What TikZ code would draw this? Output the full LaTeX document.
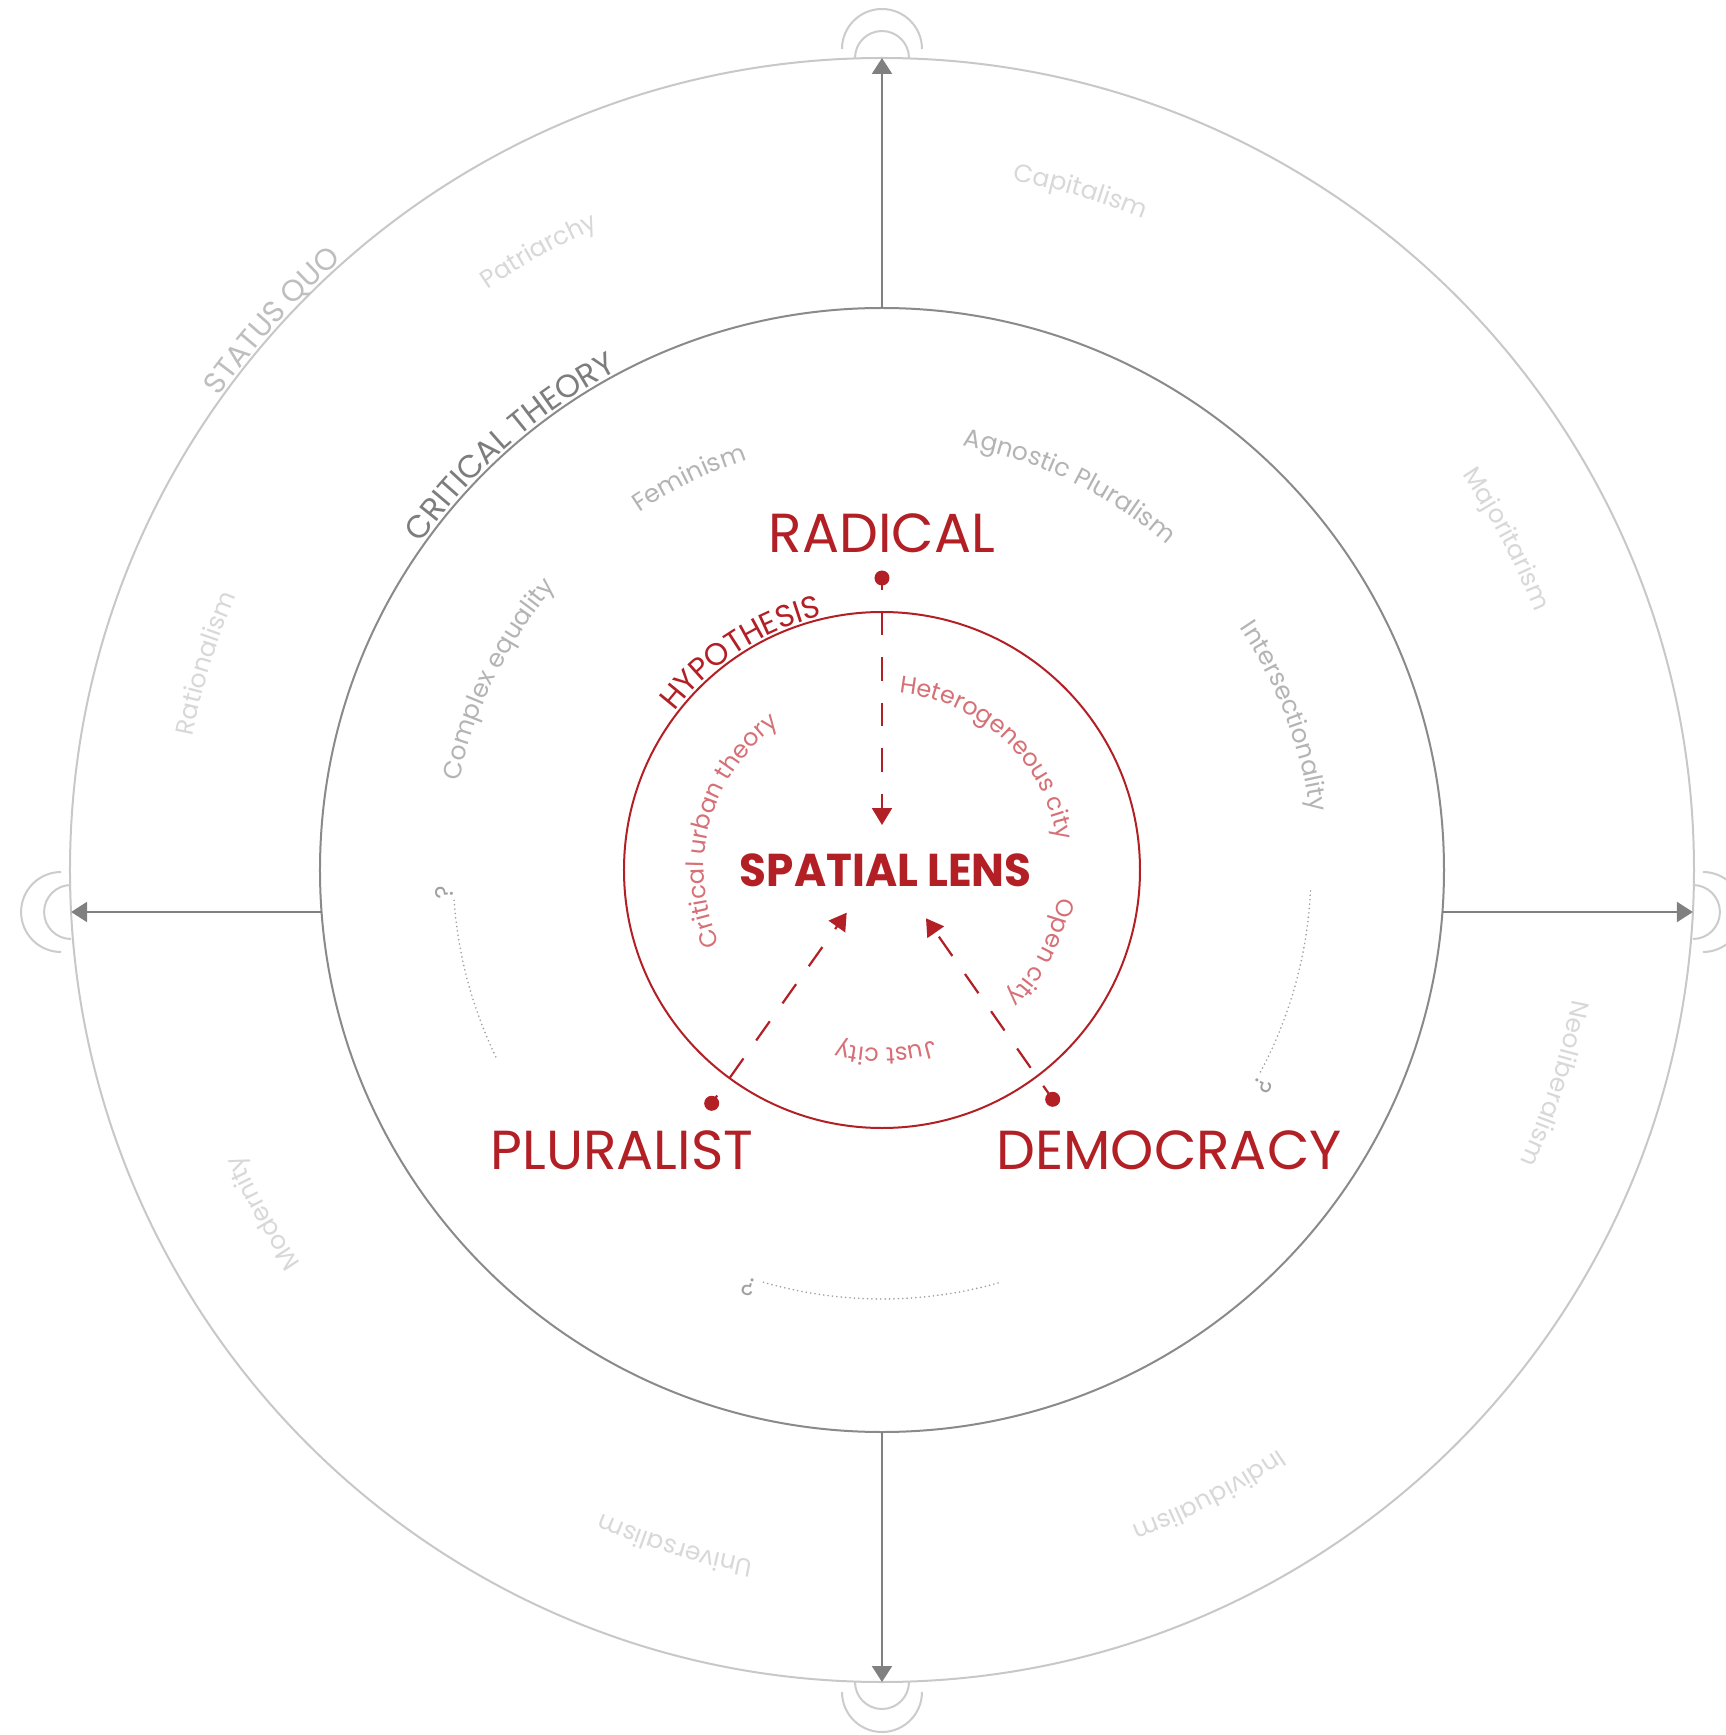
\documentclass[tikz,border=0pt]{standalone}
\usepackage{fontspec}
\setmainfont{Poppins}
\usepackage{graphicx}
\usetikzlibrary{decorations.text,arrows.meta}
\definecolor{redm}{RGB}{178,32,38}
\definecolor{redl}{RGB}{214,112,118}
\definecolor{outergrey}{RGB}{200,200,200}
\definecolor{midgrey}{RGB}{138,138,138}
\definecolor{axisgrey}{RGB}{128,128,128}
\definecolor{echogrey}{RGB}{204,204,204}
\definecolor{sqgrey}{RGB}{190,190,190}
\definecolor{ctgrey}{RGB}{125,125,125}
\definecolor{wordouter}{RGB}{216,216,216}
\definecolor{wordmid}{RGB}{180,180,180}
\definecolor{dotgrey}{RGB}{160,160,160}
\newcommand\fsOuter{\fontsize{25}{30}\selectfont}
\newcommand\fsInner{\fontsize{24}{28}\selectfont}
\newcommand\fsSQ{\fontsize{30}{34}\selectfont}
\newcommand\fsCT{\fontsize{32}{36}\selectfont}
\newcommand\fsHY{\fontsize{31}{36}\selectfont}
\newcommand\arctext[6]{%
  \path[decorate,decoration={text along path,text align=center,text color=#5,text={|#4|#6}}]
    (#1+#3:#2pt) arc[start angle=#1+#3,end angle=#1-#3,radius=#2pt];}
\begin{document}
\begin{tikzpicture}[x=1pt,y=1pt,
  axisarrow/.style={draw=axisgrey,line width=2.2pt,-{Triangle[length=16pt,width=20pt]}},
  ring/.style={circle,inner sep=0pt,outer sep=0pt,draw},
  dashar/.style={draw=redm,line width=2.2pt,dash pattern=on 23.5pt off 22pt,-{Triangle[length=17pt,width=20pt]}},
  reddot/.style={circle,fill=redm,inner sep=0pt,minimum size=15pt},
  biglbl/.style={text=redm,font=\fontsize{55}{60}\selectfont,anchor=base,inner sep=0pt},
  echo/.style={draw=echogrey,line width=2pt},
  qdots/.style={draw=dotgrey,line width=1.8pt,line cap=round,dash pattern=on 0pt off 4.4pt},
  qmark/.style={text=dotgrey,font=\fsOuter,anchor=base,inner sep=0pt}
]
\useasboundingbox (-882,-865) rectangle (844,870);
\fill[white] (-882,-865) rectangle (844,870);

% rings
\node[ring,draw=outergrey,line width=2pt,minimum size=1624pt] (outer) at (0,0) {};
\node[ring,draw=midgrey,line width=2pt,minimum size=1124pt] (mid) at (0,0) {};
\node[ring,draw=redm,line width=2pt,minimum size=516pt] (inner) at (0,0) {};

% axis end points
\coordinate (lin) at (-560.4,-42);
\coordinate (lout) at (-810.9,-42);
\coordinate (rin) at (560.4,-42);
\coordinate (rout) at (810.9,-42);

% axes
\draw[axisarrow] (mid.north) -- (outer.north);
\draw[axisarrow] (mid.south) -- (outer.south);
\draw[axisarrow] (lin) -- (lout);
\draw[axisarrow] (rin) -- (rout);

% echo arcs
\draw[echo] ([xshift=27pt]outer.north) arc[start angle=0,end angle=180,radius=27pt];
\draw[echo] ([xshift=40pt,yshift=9pt]outer.north) arc[start angle=0,end angle=180,radius=40pt];
\draw[echo] ([xshift=-27pt]outer.south) arc[start angle=180,end angle=360,radius=27pt];
\draw[echo] ([xshift=-40pt,yshift=-10pt]outer.south) arc[start angle=180,end angle=360,radius=40pt];
\draw[echo] ([yshift=27pt]lout) arc[start angle=90,end angle=270,radius=27pt];
\draw[echo] ([xshift=-10pt,yshift=40pt]lout) arc[start angle=90,end angle=270,radius=40pt];
\draw[echo] ([yshift=-27pt]rout) arc[start angle=-90,end angle=90,radius=27pt];
\draw[echo] ([xshift=10pt,yshift=-40pt]rout) arc[start angle=-90,end angle=90,radius=40pt];

% ring titles
\arctext{138}{815}{20}{\fsSQ}{sqgrey}{STATUS QUO}
\arctext{131.3}{565}{30}{\fsCT}{ctgrey}{CRITICAL THEORY}
\arctext{123}{261}{50}{\fsHY}{redm}{HYPOTHESIS}

% outer ring words
\arctext{73.7}{702}{20}{\fsOuter}{wordouter}{Capitalism}
\arctext{119}{702}{20}{\fsOuter}{wordouter}{Patriarchy}
\arctext{27.9}{702}{20}{\fsOuter}{wordouter}{Majoritarism}
\arctext{163}{702}{20}{\fsOuter}{wordouter}{Rationalism}
\arctext{-17.6}{702}{20}{\fsOuter}{wordouter}{Neoliberalism}
\arctext{209}{702}{20}{\fsOuter}{wordouter}{Modernity}
\arctext{253}{702}{20}{\fsOuter}{wordouter}{Universalism}
\arctext{297.6}{702}{20}{\fsOuter}{wordouter}{Individualism}

% middle ring words
\arctext{116.2}{432}{30}{\fsOuter}{wordmid}{Feminism}
\arctext{64}{432}{30}{\fsOuter}{wordmid}{Agnostic Pluralism}
\arctext{153.6}{432}{30}{\fsOuter}{wordmid}{Complex equality}
\arctext{20.85}{432}{30}{\fsOuter}{wordmid}{Intersectionality}

% dotted question arcs
\draw[qdots] (205.8:429pt) arc[start angle=205.8,end angle=183.9,radius=429pt];
\draw[qdots] (-2.8:429pt) arc[start angle=-2.8,end angle=-28.5,radius=429pt];
\draw[qdots] (285.7:429pt) arc[start angle=285.7,end angle=253.5,radius=429pt];
\node[qmark,rotate=92.9] (q1) at (182.9:429pt) {?};
\node[qmark,rotate=-119.5] (q2) at (-29.5:429pt) {?};
\node[qmark,rotate=162.3] (q3) at (252.3:429pt) {?};

% inner red words
\arctext{47}{178}{70}{\fsInner}{redl}{Heterogeneous city}
\arctext{-27.3}{178}{70}{\fsInner}{redl}{Open city}
\arctext{271.2}{178}{70}{\fsInner}{redl}{Just city}
\arctext{165}{178}{70}{\fsInner}{redl}{Critical urban theory}

% labels
\node[biglbl] (radical) at (0,317.3) {RADICAL};
\node[biglbl] (pluralist) at (-260,-299.3) {PLURALIST};
\node[biglbl] (democracy) at (287,-299.3) {DEMOCRACY};
\node[biglbl,font=\bfseries\fontsize{46}{50}\selectfont] (lens) at (3.8,-16) {\scalebox{0.95}[1]{SPATIAL LENS}};

% dots and dashed connectors
\node[reddot] (rdot) at (0,292) {};
\coordinate (rtip) at (0,45);
\node[reddot] (pdot) at (-170.3,-233.3) {};
\coordinate (ptip) at (-35.3,-42.7);
\node[reddot] (ddot) at (170.7,-229.3) {};
\coordinate (dtip) at (44,-48.3);
\draw[dashar,dash phase=11.5pt] (rdot.center) -- (rtip);
\draw[dashar,dash phase=14pt] (pdot.center) -- (ptip);
\draw[dashar,dash phase=7pt] (ddot.center) -- (dtip);
\end{tikzpicture}
\end{document}
